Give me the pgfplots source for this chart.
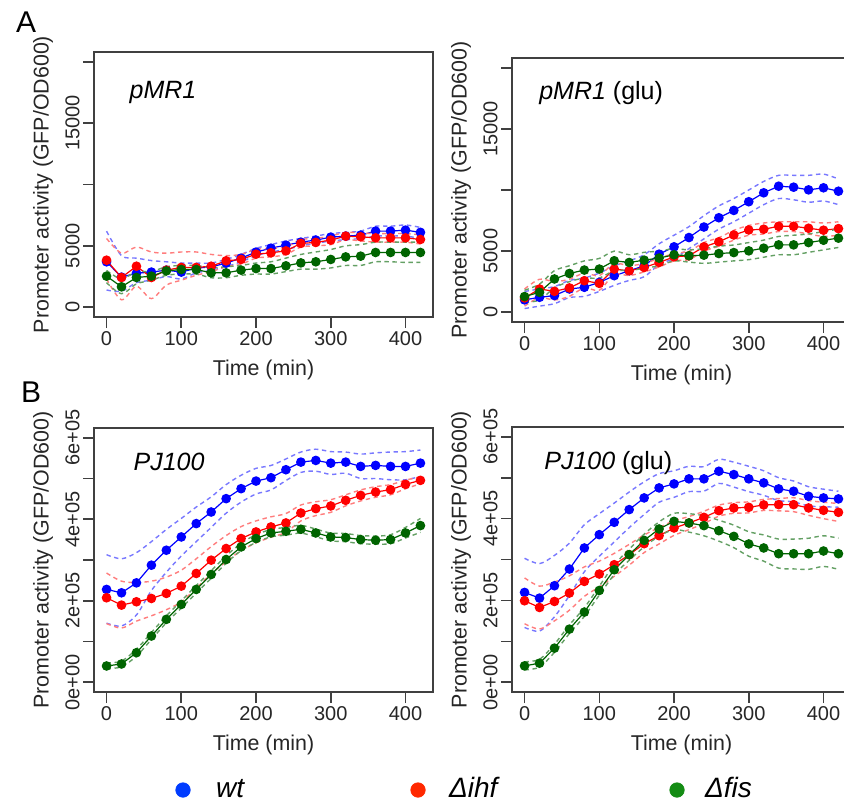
\documentclass[border=0pt]{standalone}
\usepackage{fontspec}
\setmainfont{Liberation Sans}
\usepackage{pgfplots}
\usepackage{pgfplotstable}
\pgfplotsset{compat=1.18}

\definecolor{pblue}{RGB}{0,0,255}
\definecolor{pred}{RGB}{255,0,0}
\definecolor{pgreen}{RGB}{0,100,0}
\definecolor{bblue}{RGB}{120,120,255}
\definecolor{bred}{RGB}{255,125,125}
\definecolor{bgreen}{RGB}{100,160,100}
\definecolor{lblue}{RGB}{0,60,255}
\definecolor{lred}{RGB}{255,40,0}
\definecolor{lgreen}{RGB}{20,140,20}

% pMR1
\pgfplotstableread{
t   b     bl    bu    r     rl    ru    g     gl    gu
0   3700  1400  6200  3830  2300  5600  2530  2000  3000
20  2450  1300  4200  2420  600   4400  1660  1100  2300
40  2770  2000  4000  3340  1700  4900  2420  1900  2900
60  2860  2200  3800  2420  700   4500  2530  2200  2900
80  3020  2500  3700  3020  1800  4400  2960  2600  3300
100 2860  2300  3600  3240  2200  4500  3070  2700  3400
120 3180  2800  3600  3240  2600  4500  3070  2700  3400
140 3290  3000  3600  3340  2900  4300  2800  2400  3200
160 3590  3300  3900  3780  3300  4200  2800  2400  3300
180 4000  3700  4300  3890  3500  4300  3020  2600  3400
200 4490  4200  4800  4320  4000  4700  3150  2700  3600
220 4810  4500  5100  4430  4100  4800  3150  2700  3700
240 5060  4700  5400  4590  4300  4900  3370  2900  4000
260 5300  5000  5600  5200  4900  5500  3610  3100  4300
280 5470  5200  5800  5280  5000  5600  3700  3100  4500
300 5710  5400  6000  5470  5100  5800  3890  3200  4700
320 5790  5500  6100  5790  5500  6100  4100  3400  5000
340 5870  5600  6200  5740  5400  6050  4160  3400  5100
360 6200  5800  6600  5650  5300  6000  4460  3700  5300
380 6200  5800  6600  5650  5300  6000  4460  3700  5300
400 6280  5800  6700  5650  5300  6000  4460  3650  5300
420 6100  5600  6500  5520  5150  5900  4460  3650  5300
}\tabA

% pMR1 (glu)
\pgfplotstableread{
t   b      bl    bu     r     rl    ru    g     gl    gu
0   1010   300   1700   1170  500   1900  1280  800   1800
20  1220   500   1900   1900  1200  2700  1630  1000  2300
40  1360   700   2100   1710  1000  2500  2720  2000  3400
60  1900   1200  2600   1990  1300  2700  3170  2500  3800
80  2040   1300  2800   2580  2000  3200  3450  2800  4200
100 2440   1700  3200   2360  1800  3000  3530  2800  4400
120 2990   2200  3800   3530  3100  4000  4210  3400  5000
140 3390   2600  4200   3390  3000  3800  4070  3400  4700
160 3800   2900  4700   3660  3300  4000  4260  3600  4900
180 4750   3900  5600   4070  3700  4400  4430  3800  5000
200 5350   4400  6300   4530  4200  4800  4700  4200  5200
220 6110   5200  7000   4620  4300  5000  4620  4100  5100
240 6970   6000  7900   5350  5000  5700  4670  4000  5200
260 7730   6800  8700   5760  5400  6100  4800  4100  5400
280 8330   7400  9300   6320  5900  6700  4880  4200  5500
300 9040   8100  10000  6730  6300  7100  5020  4300  5700
320 9770   8800  10700  6790  6400  7300  5240  4500  5900
340 10310  9300  11200  7030  6600  7400  5510  4700  6200
360 10230  9200  11200  7030  6600  7400  5510  4700  6300
380 10010  9000  11200  6870  6400  7400  5700  4900  6400
400 10180  9100  11300  6710  6200  7300  5890  5100  6600
420 9900   8800  10900  6840  6300  7400  6060  5300  6800
}\tabB

% PJ100
\pgfplotstableread{
t   b       bl      bu      r       rl      ru      g       gl      gu
0   227800  145000  313000  207300  144000  268000  39900   33000   47000
20  219500  138000  303000  189300  133000  248000  44800   38000   52000
40  243900  165000  318000  197500  150000  245000  72500   64000   81000
60  287300  225000  345000  205600  163000  248000  113400  105000  122000
80  324000  270000  375000  218000  178000  258000  154300  146000  163000
100 356600  310000  402000  235900  197000  275000  191000  182000  200000
120 389400  345000  430000  267000  231000  303000  227800  219000  237000
140 417800  380000  455000  299600  266000  333000  264500  255000  274000
160 450600  415000  485000  328200  296000  360000  301200  292000  310000
180 475100  442000  508000  352700  323000  382000  332100  323000  341000
200 493700  462000  525000  368900  342000  396000  352700  343000  362000
220 502000  472000  532000  381200  356000  406000  366400  357000  375000
240 521600  495000  548000  391000  368000  414000  370500  361000  380000
260 540300  515000  565000  415400  396000  435000  375400  366000  385000
280 544400  518000  572000  426100  409000  443000  366400  357000  376000
300 537800  510000  566000  432600  417000  448000  356600  347000  366000
320 540300  513000  565000  446500  433000  460000  355100  345000  365000
340 529700  500000  560000  458700  445000  472000  350200  340000  360000
360 532200  500000  563000  466900  454000  480000  348500  339000  359000
380 529700  497000  565000  472600  460000  485000  350200  340000  362000
400 529700  497000  566000  485700  475000  496000  366400  354000  380000
420 537800  505000  570000  495500  487000  504000  384500  368000  402000
}\tabC

% PJ100 (glu)
\pgfplotstableread{
t   b       bl      bu      r       rl      ru      g       gl      gu
0   219500  134000  303000  199100  143000  255000  39900   30000   50000
20  205600  125000  290000  182700  130000  235000  46500   37000   56000
40  235900  160000  310000  197400  150000  245000  83300   73000   93000
60  276700  212000  340000  218000  176000  260000  129800  119000  140000
80  328200  270000  385000  246400  210000  282000  171400  161000  182000
100 360800  308000  412000  264500  233000  296000  224300  213000  235000
120 391000  343000  438000  287300  259000  315000  275000  263000  287000
140 422000  378000  465000  311800  286000  337000  311800  298000  325000
160 450600  410000  490000  338700  317000  360000  346800  331000  362000
180 475100  440000  510000  358300  338000  378000  374700  357000  392000
200 484900  452000  517000  377100  359000  395000  393300  373000  413000
220 497200  466000  528000  389400  373000  405000  389400  367000  412000
240 497200  467000  527000  403100  388000  418000  382800  358000  407000
260 515800  486000  545000  419500  406000  433000  370500  345000  396000
280 507700  477000  538000  426100  413000  439000  356600  329000  384000
300 497200  466000  528000  427600  414000  441000  338000  308000  368000
320 487400  457000  517000  433500  420000  447000  328200  296000  360000
340 472700  444000  500000  434200  419000  449000  314200  279000  350000
360 466900  441000  492000  434200  417000  451000  314200  277000  350000
380 454600  431000  478000  426100  408000  444000  314200  276000  352000
400 450600  429000  472000  420300  400000  440000  320800  283000  358000
420 448200  428000  467000  415400  393000  437000  314200  276000  352000
}\tabD

\pgfplotsset{
  panel/.style={
    scale only axis, width=169.5pt,
    xmin=-16.8, xmax=436.8,
    xtick={0,100,200,300,400}, xticklabels={0,100,200,300,400},
    scaled y ticks=false, scaled x ticks=false,
    tick align=outside, xtick pos=left, ytick pos=left,
    major tick length=5.5pt,
    axis line style={black!75, line width=0.8pt},
    every tick/.style={black!75, line width=0.8pt},
    tick label style={font=\fontsize{10}{12}\selectfont, text=black!85},
    xticklabel style={inner sep=1.5pt},
    yticklabel style={rotate=90, anchor=south, inner sep=1.5pt},
    label style={font=\fontsize{10.7}{12}\selectfont, text=black!85},
    xlabel={Time (min)},
    ylabel={Promoter activity (GFP/OD600)},
    xlabel style={at={(axis description cs:0.5,-0.2)}, anchor=center},
    ylabel style={at={(axis description cs:-0.1504,0.5)}, anchor=center},
    clip=false,
  },
  topy/.style={ymin=-800, ymax=20800, ytick={0,5000,10000,15000,20000},
    yticklabels={0,5000,,15000,}},
  boty/.style={ymin=-24000, ymax=624000,
    ytick={0,100000,200000,300000,400000,500000,600000},
    yticklabels={0e+00,,2e+05,,4e+05,,6e+05}},
  band/.style={dashed, dash pattern=on 2.2pt off 1.8pt, line width=0.7pt, smooth, no markers},
  main/.style={line width=0.6pt, mark=*, mark size=2.1pt, mark options={solid}},
}

\newcommand{\series}[4]{%
  \addplot[band, #4] table[x=t, y=#2l] {#1};
  \addplot[band, #4] table[x=t, y=#2u] {#1};
  \addplot[main, #3] table[x=t, y=#2] {#1};
}
\newcommand{\allseries}[1]{%
  \series{#1}{b}{pblue}{bblue}
  \series{#1}{r}{pred}{bred}
  \series{#1}{g}{pgreen}{bgreen}
}

\begin{document}
\begin{tikzpicture}
\path[use as bounding box] (0pt,0pt) rectangle (422pt,-401pt);

% A, left
\begin{axis}[panel, topy, height=132.5pt, at={(47pt,-26pt)}, anchor=north west]
\allseries{\tabA}
\node[anchor=base west, font=\fontsize{12.5}{14}\selectfont\itshape] at (axis cs:21.5,17000) {pMR1};
\end{axis}

% A, right
\begin{axis}[panel, topy, height=132pt, at={(256pt,-29pt)}, anchor=north west]
\allseries{\tabB}
\node[anchor=base west, font=\fontsize{12.5}{14}\selectfont] at (axis cs:10.3,17400) {\textit{pMR1} (glu)};
\end{axis}

% B, left
\begin{axis}[panel, boty, height=132pt, at={(47pt,-214pt)}, anchor=north west]
\allseries{\tabC}
\node[anchor=base west, font=\fontsize{12.5}{14}\selectfont\itshape] at (axis cs:26.8,520000) {PJ100};
\end{axis}

% B, right
\begin{axis}[panel, boty, height=132.5pt, at={(256pt,-213.5pt)}, anchor=north west]
\allseries{\tabD}
\node[anchor=base west, font=\fontsize{12.5}{14}\selectfont] at (axis cs:17,520000) {\textit{PJ100} (glu)};
\end{axis}

% overlay in pixel units: panel letters and legend
\begin{axis}[scale only axis, width=422pt, height=401pt, at={(0pt,-401pt)}, anchor=south west,
  xmin=0, xmax=844, ymin=0, ymax=802, hide axis, clip=false]
\addplot[only marks, mark=*, mark size=3.6pt, lblue] coordinates {(183,12)};
\addplot[only marks, mark=*, mark size=3.6pt, lred] coordinates {(418,12)};
\addplot[only marks, mark=*, mark size=3.6pt, lgreen] coordinates {(677,12)};
\node[anchor=base west, font=\fontsize{14}{16}\selectfont\itshape] at (axis cs:209,5) {wt};
\node[anchor=base west, font=\fontsize{14}{16}\selectfont\itshape] at (axis cs:442,5) {Δihf};
\node[anchor=base west, font=\fontsize{14}{16}\selectfont\itshape] at (axis cs:698,5) {Δfis};
\node[anchor=base west, font=\fontsize{15}{17}\selectfont] at (axis cs:9,769) {A};
\node[anchor=base west, font=\fontsize{15}{17}\selectfont] at (axis cs:14,400) {B};
\end{axis}
\end{tikzpicture}
\end{document}
